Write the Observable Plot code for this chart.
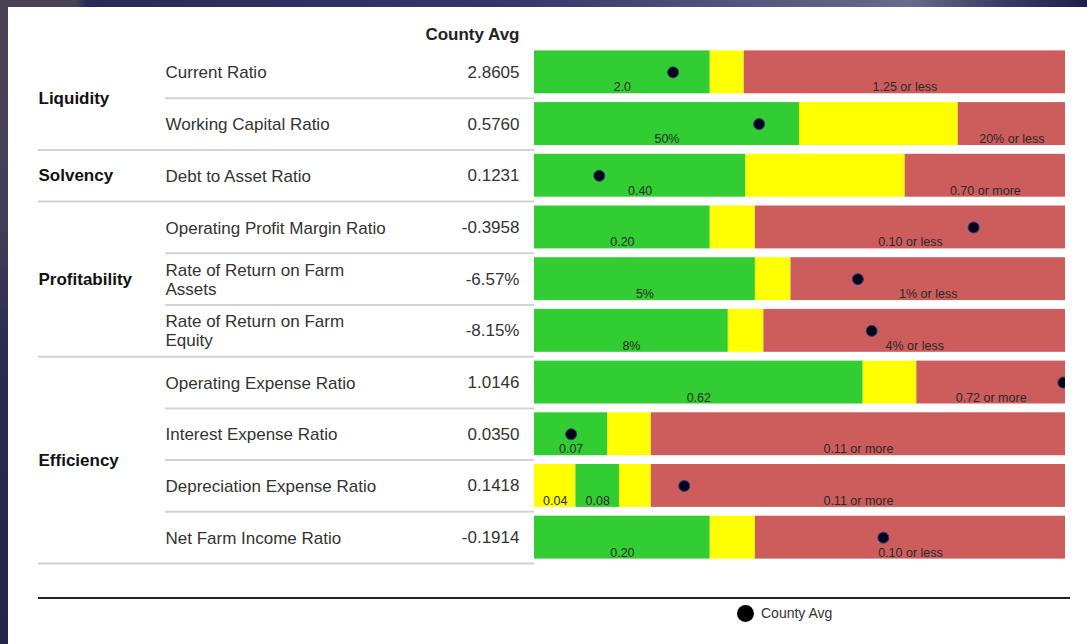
<!DOCTYPE html>
<html>
<head>
<meta charset="utf-8">
<script src="https://cdn.jsdelivr.net/npm/d3@7"></script>
<script src="https://cdn.jsdelivr.net/npm/@observablehq/plot@0.6"></script>
<style>
  html, body { margin: 0; padding: 0; }
  body {
    width: 1087px; height: 644px; overflow: hidden; position: relative;
    background: linear-gradient(90deg, #4a4357 0px, #4a4357 76px, #2a2a58 86px, #34356b 500px, #6b6a8a 910px, #3a3a66 1000px, #1e1f4a 1087px);
    font-family: "Liberation Sans", Arial, sans-serif;
  }
  #leftstrip { position: absolute; left: 0; top: 0; width: 8px; height: 644px;
    background: linear-gradient(180deg, #4a4357 0%, #433d58 35%, #2a2a55 55%, #24244e 100%); }
  #panel { position: absolute; left: 8px; top: 7px; width: 1079px; height: 637px; background: #ffffff; }
  #chart { position: absolute; left: 0; top: 0; width: 1087px; }
  #rule { margin-left: 38px; width: 1032px; margin-top: 17px; border-top: 2px solid #222; height: 0; }
  #legend { display: flex; align-items: center; margin-left: 737px; margin-top: 6px; height: 17px; }
  #legend .sw { width: 17px; height: 17px; border-radius: 50%; background: #000; margin-right: 7px; }
  #legend .lb { font-size: 14px; color: #333; line-height: 17px; }
</style>
</head>
<body>
<div id="leftstrip"></div>
<div id="panel"></div>
<div id="chart"></div>
<script>
// ---- data ----
const groups = ["Liquidity", "Liquidity", "Solvency", "Profitability", "Profitability", "Profitability",
  "Efficiency", "Efficiency", "Efficiency", "Efficiency"];
const metrics = ["Current Ratio", "Working Capital Ratio", "Debt to Asset Ratio", "Operating Profit Margin Ratio",
  "Rate of Return on Farm\nAssets", "Rate of Return on Farm\nEquity", "Operating Expense Ratio",
  "Interest Expense Ratio", "Depreciation Expense Ratio", "Net Farm Income Ratio"];
const countyAvg = ["2.8605", "0.5760", "0.1231", "-0.3958", "-6.57%", "-8.15%", "1.0146", "0.0350", "0.1418", "-0.1914"];
// position of the County Avg marker along each gauge bar (0–100)
const countyAvgGauge = [26.1, 42.3, 12.2, 82.7, 60.9, 63.5, 99.6, 6.9, 28.2, 65.7];
// gauge segment ends (0–100)
const lowEnd = [0, 0, 0, 0, 0, 0, 0, 0, 7.8, 0];
const goodEnd = [33.1, 49.9, 39.8, 33.1, 41.6, 36.5, 61.9, 13.8, 16.0, 33.1];
const cautionEnd = [39.5, 79.8, 69.8, 41.6, 48.3, 43.2, 72.0, 22.0, 22.0, 41.6];
const lowLabel = ["", "", "", "", "", "", "", "", "0.04", ""];
const goodLabel = ["2.0", "50%", "0.40", "0.20", "5%", "8%", "0.62", "0.07", "0.08", "0.20"];
const poorLabel = ["1.25 or less", "20% or less", "0.70 or more", "0.10 or less", "1% or less", "4% or less",
  "0.72 or more", "0.11 or more", "0.11 or more", "0.10 or less"];
const header = "County Avg";
const kinds = ["good", "caution", "poor"];

// ---- tables built from the arrays ----
const rows = metrics.map((m, i) => ({
  metric: m, group: groups[i], avg: countyAvg[i], gauge: countyAvgGauge[i],
  groupEnd: i === metrics.length - 1 || groups[i + 1] !== groups[i]
}));
const segments = rows.flatMap((r, i) => {
  const s = [];
  if (lowEnd[i] > 0) s.push({metric: r.metric, kind: "caution", x1: 0, x2: lowEnd[i], label: lowLabel[i]});
  s.push({metric: r.metric, kind: "good", x1: lowEnd[i], x2: goodEnd[i], label: goodLabel[i]});
  s.push({metric: r.metric, kind: "caution", x1: goodEnd[i], x2: cautionEnd[i], label: ""});
  s.push({metric: r.metric, kind: "poor", x1: cautionEnd[i], x2: 100, label: poorLabel[i]});
  return s;
});
const groupNames = [...new Set(groups)];
const groupInfo = groupNames.map(g => {
  const idx = groups.map((v, i) => v === g ? i : -1).filter(i => i >= 0);
  return {group: g, first: metrics[idx[0]], n: idx.length};
});

// ---- layout ----
const W = 1087, H = 580, mL = 534, mR = 22, mT = 46, mB = 17;
const step = (H - mT - mB) / metrics.length;
const frameW = W - mL - mR;
const sepColor = "#d3d3d3";

const groupMarks = groupInfo.map(g => Plot.text([g], {
  y: () => g.first, text: "group", frameAnchor: "left", dx: 38 - mL, dy: (g.n - 1) / 2 * step,
  textAnchor: "start", fontWeight: "bold", fontSize: 17, fill: "#111"
}));

const chart = Plot.plot({
  width: W, height: H,
  marginLeft: mL, marginRight: mR, marginTop: mT, marginBottom: mB,
  style: {background: "transparent", fontFamily: "'Liberation Sans', Arial, sans-serif", overflow: "visible"},
  x: {domain: [0, 100], axis: null},
  y: {domain: metrics, axis: null, paddingInner: 0.17, paddingOuter: 0.085, round: false},
  color: {domain: kinds, range: ["#32cd32", "#ffff00", "#cd5c5c"]},
  marks: [
    // separators
    Plot.ruleY(rows.filter(r => !r.groupEnd), {y: "metric", dy: step / 2, stroke: sepColor, strokeWidth: 2,
      insetLeft: 165 - mL, insetRight: frameW}),
    Plot.ruleY(rows.filter(r => r.groupEnd), {y: "metric", dy: step / 2, stroke: sepColor, strokeWidth: 2,
      insetLeft: 38 - mL, insetRight: frameW}),
    // gauge bars
    Plot.barX(segments, {y: "metric", x1: "x1", x2: "x2", fill: "kind"}),
    Plot.text(segments.filter(d => d.label), {
      y: "metric", x: d => (d.x1 + d.x2) / 2, text: "label", dy: 15,
      fontSize: 12.5, fill: "#2a2a2a", textAnchor: "middle"
    }),
    Plot.dot(rows, {y: "metric", x: "gauge", r: 5.5, fill: "#05051a", stroke: "#2b3c85", strokeWidth: 1, clip: true}),
    // table text
    Plot.text([header], {frameAnchor: "top-left", lineAnchor: "middle", dx: -15, dy: 34 - mT, textAnchor: "end",
      fontWeight: "bold", fontSize: 17, fill: "#222"}),
    Plot.text(rows, {y: "metric", text: "avg", frameAnchor: "left", dx: -15, textAnchor: "end",
      fontSize: 17, fill: "#333"}),
    Plot.text(rows, {y: "metric", text: "metric", frameAnchor: "left", dx: 165 - mL, textAnchor: "start",
      fontSize: 17, fill: "#333", lineHeight: 1.12}),
    ...groupMarks
  ]
});

const host = document.getElementById("chart");
host.appendChild(chart);
const rule = document.createElement("div");
rule.id = "rule";
host.appendChild(rule);
const legend = document.createElement("div");
legend.id = "legend";
legend.innerHTML = `<div class="sw"></div><div class="lb">${header}</div>`;
host.appendChild(legend);
</script>
</body>
</html>
